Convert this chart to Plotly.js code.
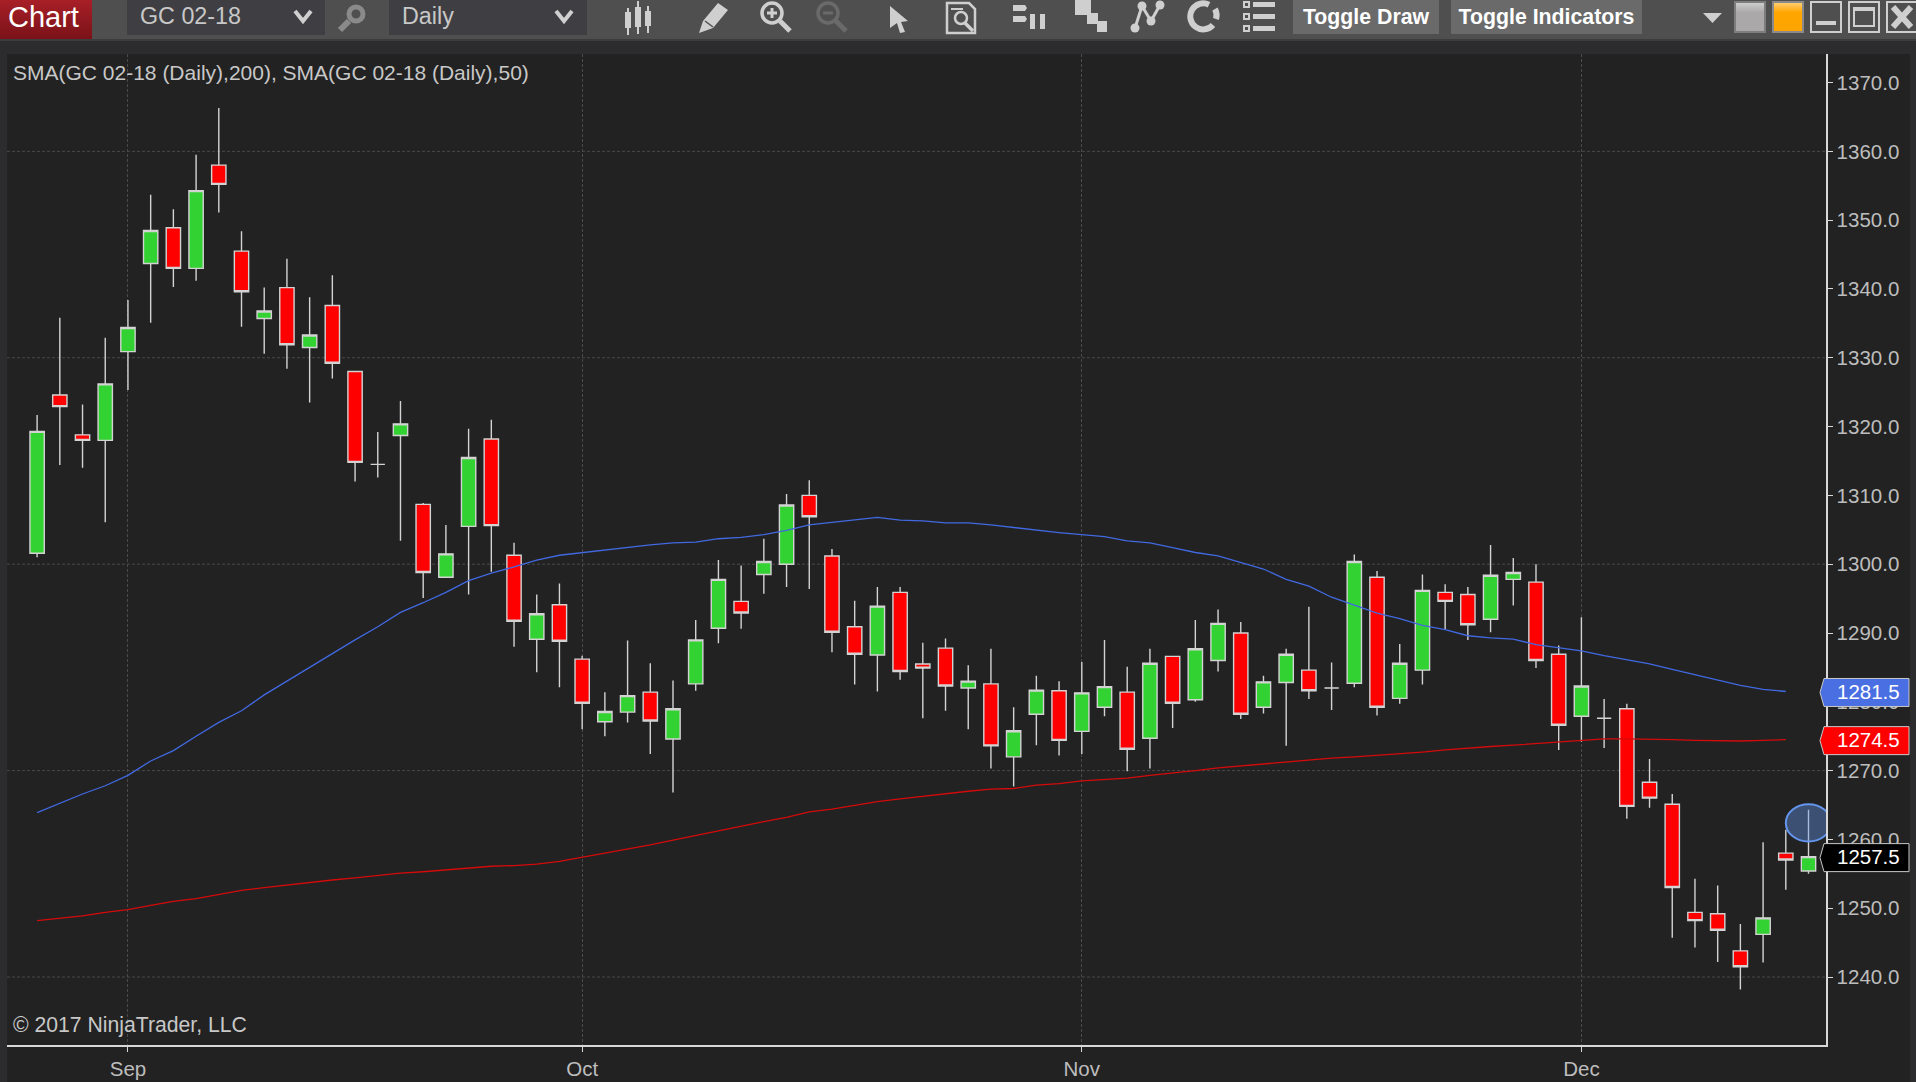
<!DOCTYPE html>
<html>
<head>
<meta charset="utf-8">
<script src="https://cdn.plot.ly/plotly-3.0.1.min.js"></script>
<style>
html,body{margin:0;padding:0;width:1916px;height:1082px;overflow:hidden;background:#222;font-family:"Liberation Sans",Arial,sans-serif}
#chart{position:absolute;left:0;top:0;width:1916px;height:1082px}
#bar{position:absolute;left:0;top:0;width:1916px;height:39px;background:#4f4f4f;overflow:hidden}
#sep{position:absolute;left:0;top:39px;width:1916px;height:2px;background:#3c3c3c}
#strip{position:absolute;left:0;top:41px;width:1916px;height:13px;background:#2c2c2e}
#sl{position:absolute;left:0;top:41px;width:7px;height:1041px;background:#2c2c2e}
#sr{position:absolute;left:1910px;top:41px;width:6px;height:1041px;background:#2c2c2e}
.txt{position:absolute;white-space:nowrap}
.btn{position:absolute;top:0;height:34px;background:#6a6a6a;color:#fff;font-weight:bold;font-size:21.3px;line-height:34px;text-align:center}
.dd{position:absolute;top:0;height:35px;background:#3f3f43;color:#c8c8c8;font-size:23.3px;line-height:32px}
svg.i{position:absolute;left:0;top:0;width:1916px;height:39px}
</style>
</head>
<body>
<div id="chart"></div>
<div id="strip"></div><div id="sl"></div><div id="sr"></div><div id="sep"></div>
<div id="bar">
  <div class="txt" style="left:0;top:0;width:92px;height:39px;background:linear-gradient(#a81f27,#7a1218);color:#fff;font-size:29px;line-height:34px;text-indent:8px">Chart</div>
  <div class="dd" style="left:127px;width:198px;text-indent:13px">GC 02-18</div>
  <div class="dd" style="left:389px;width:198px;text-indent:13px">Daily</div>
  <div class="btn" style="left:1293px;width:146px">Toggle Draw</div>
  <div class="btn" style="left:1451px;width:191px">Toggle Indicators</div>
  <svg class="i" viewBox="0 0 1916 39" fill="none" stroke="#cfcfcf">
    <path d="M295 11l8 10 8-10M556 11l8 10 8-10" stroke-width="4"/>
    <g stroke="#8a8a8a"><circle cx="356" cy="14" r="7" stroke-width="5"/><path d="M349 21l-9 9" stroke-width="6"/></g>
    <g stroke-width="2"><path d="M628 8v27M638 1v33M648 6v27"/></g>
    <g fill="#cfcfcf" stroke="none"><rect x="625" y="12" width="6" height="16"/><rect x="635" y="7" width="6" height="20"/><rect x="645" y="11" width="6" height="15"/></g>
    <path d="M699 33l4-12 15-18 10 7-15 18z" fill="#cfcfcf" stroke="none"/><path d="M705 21l8 6" stroke="#4f4f4f" stroke-width="1.500"/>
    <circle cx="772" cy="13" r="10" stroke-width="3.5"/><path d="M780 21l10 10" stroke-width="5"/><path d="M767 13h10M772 8v10" stroke-width="3"/>
    <g stroke="#6a6a6a"><circle cx="828" cy="13" r="10" stroke-width="3.5"/><path d="M836 21l10 10" stroke-width="5"/><path d="M823 13h10" stroke-width="3"/></g>
    <path d="M890 6l18 15-7 1 4 10-5 1-3-10-7 5z" fill="#cfcfcf" stroke="none"/>
    <path d="M947 3h22l6 6v24h-28z" stroke-width="2.5"/><circle cx="961" cy="18" r="6" stroke-width="2.5"/><path d="M965 23l8 8" stroke-width="3.5"/><path d="M951 9h12" stroke-width="2"/>
    <g fill="#cfcfcf" stroke="none"><path d="M1013 5h12l2 3-2 3h-12zM1013 16h12l2 3-2 3h-12z"/><rect x="1030" y="14" width="5" height="15"/><rect x="1040" y="14" width="5" height="15"/>
      <rect x="1075" y="0" width="16" height="15"/><rect x="1087" y="13" width="11" height="11"/><rect x="1097" y="21" width="10" height="11"/>
      <circle cx="1135" cy="28" r="4.5"/><circle cx="1142" cy="6" r="4.5"/><circle cx="1151" cy="21" r="4.5"/><circle cx="1160" cy="5" r="4.5"/>
      <rect x="1253" y="2" width="22" height="5"/><rect x="1253" y="14" width="22" height="5"/><rect x="1253" y="26" width="22" height="5"/></g>
    <path d="M1135 28l7-22 9 15 9-16" stroke-width="3"/>
    <path d="M1209 4.700A13 13 0 1 0 1213 25" stroke-width="6"/><path d="M1215 9A13 13 0 0 1 1216 19" stroke-width="6"/>
    <g stroke-width="2"><rect x="1244" y="2" width="5" height="5"/><rect x="1244" y="14" width="5" height="5"/><rect x="1244" y="26" width="5" height="5"/></g>
    <path d="M1703 13h19l-9.500 10z" fill="#cfcfcf" stroke="none"/>
    <defs><linearGradient id="g1" x1="0" y1="0" x2="0" y2="1"><stop offset="0" stop-color="#d0d0d0"/><stop offset=".35" stop-color="#aaa8a8"/></linearGradient>
    <linearGradient id="g2" x1="0" y1="0" x2="0" y2="1"><stop offset="0" stop-color="#ffd27a"/><stop offset=".35" stop-color="#ffa500"/></linearGradient></defs>
    <rect x="1735" y="2" width="30" height="30" fill="url(#g1)" stroke="#7d7d7d" stroke-width="2"/>
    <rect x="1773" y="2" width="30" height="30" fill="url(#g2)" stroke="#8a8a8a" stroke-width="2"/>
    <rect x="1811" y="2" width="30" height="30" stroke-width="2"/><rect x="1816" y="21" width="20" height="4" fill="#cfcfcf" stroke="none"/>
    <rect x="1849" y="2" width="30" height="30" stroke-width="2"/><rect x="1854" y="8" width="20" height="18" stroke-width="2"/><rect x="1854" y="7" width="20" height="4" fill="#cfcfcf" stroke="none"/>
    <rect x="1887" y="2" width="30" height="30" stroke-width="2"/><path d="M1893 7l18 20M1911 7l-18 20" stroke-width="6"/>
  </svg>
</div>
<script>
// Daily bars of GC 02-18, late Aug - mid Dec 2017
var barIndex = [];
for (var k = 0; k < 79; k++) barIndex.push(k);
var opens = [1301.6,1324.6,1318.8,1318.0,1330.9,1343.7,1348.9,1343.0,1358.0,1345.5,1335.7,1340.2,1331.5,1337.6,1328.0,1314.5,1318.7,1308.7,1298.1,1305.5,
 1318.2,1301.3,1289.1,1294.1,1286.2,1277.1,1278.5,1281.4,1274.6,1282.6,1290.7,1294.6,1298.5,1300.0,1310.0,1301.2,1290.9,1286.8,1295.9,1285.5,
 1287.8,1282.0,1282.6,1272.0,1278.2,1281.6,1275.7,1279.2,1281.4,1274.7,1286.6,1280.3,1286.0,1290.0,1279.2,1282.8,1284.6,1282.0,1282.7,1298.1,
 1280.5,1284.6,1295.9,1295.6,1292.0,1297.8,1297.4,1286.9,1277.9,1277.6,1279.0,1268.3,1265.1,1249.4,1249.2,1243.8,1246.2,1258.0,1255.4];
var highs = [1321.7,1335.8,1323.2,1332.9,1338.4,1353.7,1351.6,1359.5,1366.3,1348.4,1340.2,1344.4,1338.8,1342.0,1328.0,1319.2,1323.7,1308.9,1305.7,1319.7,
 1321.0,1303.1,1295.6,1297.2,1286.7,1281.4,1288.9,1285.6,1283.1,1291.9,1300.6,1299.8,1303.7,1310.2,1312.2,1302.2,1294.7,1296.7,1296.7,1288.6,
 1289.2,1285.3,1287.7,1279.2,1283.8,1283.0,1285.8,1289.0,1285.1,1287.7,1286.6,1291.9,1293.4,1291.6,1283.8,1287.7,1293.8,1285.7,1301.4,1299.0,
 1288.4,1298.5,1297.1,1296.7,1302.8,1300.9,1300.0,1288.2,1292.3,1280.4,1279.7,1271.7,1266.6,1254.3,1253.3,1247.7,1259.6,1261.4,1264.3];
var lows = [1301.0,1314.4,1314.0,1306.1,1325.3,1335.1,1340.3,1341.2,1351.1,1334.5,1330.6,1328.4,1323.5,1327.0,1312.0,1312.6,1303.4,1295.1,1298.1,1295.6,
 1298.9,1288.0,1284.3,1282.1,1276.0,1275.0,1277.0,1272.4,1266.8,1281.6,1288.5,1290.6,1295.7,1296.7,1296.4,1287.2,1282.5,1281.5,1283.2,1277.6,
 1278.7,1276.0,1270.3,1267.7,1273.7,1272.2,1272.4,1277.9,1269.9,1270.3,1276.2,1280.0,1284.4,1277.5,1278.3,1273.6,1280.4,1278.8,1282.1,1278.0,
 1279.7,1282.5,1290.5,1289.0,1290.1,1294.0,1284.9,1273.0,1274.2,1273.3,1263.0,1264.6,1245.7,1244.3,1242.2,1238.2,1242.1,1252.7,1255.0];
var closes = [1319.3,1322.9,1318.0,1326.2,1334.4,1348.5,1343.0,1354.3,1355.2,1339.6,1336.8,1331.9,1333.3,1329.2,1314.8,1314.5,1320.4,1298.8,1301.5,1315.5,
 1305.6,1291.7,1292.8,1288.8,1279.8,1278.6,1280.9,1277.2,1279.0,1289.0,1297.8,1292.9,1300.4,1308.6,1306.9,1290.1,1286.9,1293.9,1284.4,1284.9,
 1282.3,1283.0,1273.6,1275.8,1281.7,1274.4,1281.3,1282.2,1273.1,1285.6,1279.8,1287.7,1291.4,1278.2,1282.9,1286.9,1281.6,1282.0,1300.4,1279.2,
 1285.6,1296.2,1294.6,1291.2,1298.4,1298.8,1286.0,1276.6,1282.3,1277.6,1264.8,1266.0,1253.0,1248.2,1246.8,1241.5,1248.6,1257.0,1257.5];
var sma50 = [1263.9,1265.3,1266.6,1267.8,1269.3,1271.4,1272.9,1275.0,1277.0,1278.7,1281.0,1283.0,1285.0,1287.1,1289.0,1290.9,1293.0,1294.4,1295.9,1297.6,
 1298.7,1299.6,1300.6,1301.3,1301.7,1302.0,1302.4,1302.8,1303.1,1303.2,1303.7,1303.9,1304.3,1304.9,1305.7,1306.1,1306.4,1306.8,1306.4,1306.3,
 1306.0,1306.0,1305.7,1305.3,1305.0,1304.6,1304.3,1304.0,1303.4,1303.1,1302.4,1301.7,1301.2,1300.2,1299.3,1297.8,1296.8,1295.2,1294.1,1292.9,
 1292.1,1291.1,1290.5,1289.6,1289.3,1289.1,1288.3,1287.8,1287.4,1286.7,1286.1,1285.5,1284.7,1283.9,1283.2,1282.4,1281.8,1281.5,null];
var sma200 = [1248.2,1248.5,1248.9,1249.4,1249.8,1250.4,1251.0,1251.4,1252.0,1252.6,1253.0,1253.4,1253.7,1254.1,1254.4,1254.8,1255.1,1255.3,1255.6,1255.9,
 1256.1,1256.2,1256.4,1256.8,1257.4,1257.9,1258.6,1259.2,1259.9,1260.6,1261.3,1261.9,1262.6,1263.2,1264.0,1264.4,1265.0,1265.5,1265.9,1266.3,
 1266.6,1267.0,1267.3,1267.4,1267.9,1268.1,1268.5,1268.7,1268.9,1269.3,1269.6,1270.0,1270.4,1270.7,1270.9,1271.2,1271.5,1271.8,1272.0,1272.2,
 1272.5,1272.7,1273.0,1273.3,1273.5,1273.7,1273.9,1274.1,1274.4,1274.6,1274.6,1274.6,1274.5,1274.4,1274.3,1274.3,1274.4,1274.5,null];
var monthTicks = [4,24,46,68];
var monthLabels = ['Sep','Oct','Nov','Dec'];
var priceTicks = [1240,1250,1260,1270,1280,1290,1300,1310,1320,1330,1340,1350,1360,1370];
var priceTickLabels = ['1240.0','1250.0','1260.0','1270.0','1280.0','1290.0','1300.0','1310.0','1320.0','1330.0','1340.0','1350.0','1360.0','1370.0'];
var gridPrices = [1240,1270,1300,1330,1360];
var tagValues = [1281.5,1274.5,1257.5];
var tagLabels = ['1281.5','1274.5','1257.5'];
var tagFills = ['#4a6fe3','#ff0000','#000000'];
var alertBar = 78, alertLow = 1259.7, alertHigh = 1265.1;

var tagPath = 'M -6,-1 L -2,-15 L 83,-15 L 83,13 L -2,13 Z';
var shapes = gridPrices.map(function(p){
  return {type:'line',xref:'paper',x0:0,x1:1,yref:'y',y0:p,y1:p,layer:'below',line:{color:'#4a4a4a',width:1,dash:'3px,2px'}};
});
shapes.push({type:'circle',xref:'x',yref:'y',x0:alertBar-1,x1:alertBar+1,y0:alertLow,y1:alertHigh,layer:'above',
  fillcolor:'rgba(100,149,237,0.4)',line:{color:'#6495ed',width:2}});
tagValues.forEach(function(v,i){
  shapes.push({type:'path',xref:'paper',xsizemode:'pixel',xanchor:1,yref:'y',ysizemode:'pixel',yanchor:v,path:tagPath,
    fillcolor:tagFills[i],line:{color:'#c8c8c8',width:1},layer:'above'});
});
var annotations = [
  {xref:'paper',yref:'paper',x:0,y:1,xanchor:'left',yanchor:'top',xshift:4,yshift:-5,showarrow:false,align:'left',
   text:'SMA(GC 02-18 (Daily),200), SMA(GC 02-18 (Daily),50)',font:{family:'Liberation Sans',size:21,color:'#c8c8c8'}},
  {xref:'paper',yref:'paper',x:0,y:0,xanchor:'left',yanchor:'bottom',xshift:4,yshift:6,showarrow:false,align:'left',
   text:'© 2017 NinjaTrader, LLC',font:{family:'Liberation Sans',size:21.2,color:'#c8c8c8'}}
];
tagValues.forEach(function(v,i){
  annotations.push({xref:'paper',yref:'y',x:1,y:v,xanchor:'left',yanchor:'middle',xshift:9,yshift:0,showarrow:false,
    text:tagLabels[i],font:{family:'Liberation Sans',size:20.5,color:'#ffffff'}});
});

var traces = [
  {type:'candlestick',x:barIndex,open:opens,high:highs,low:lows,close:closes,whiskerwidth:0,hoverinfo:'skip',showlegend:false,
   increasing:{fillcolor:'#33d233',line:{color:'#d3d3d3',width:1.4}},
   decreasing:{fillcolor:'#ff0000',line:{color:'#d3d3d3',width:1.4}}},
  {type:'scatter',mode:'lines',x:barIndex,y:sma50,name:'SMA 50',line:{color:'#4169e1',width:1.3},hoverinfo:'skip',showlegend:false},
  {type:'scatter',mode:'lines',x:barIndex,y:sma200,name:'SMA 200',line:{color:'#d50a0a',width:1.3},hoverinfo:'skip',showlegend:false}
];
var layout = {
  width:1916,height:1082,autosize:false,showlegend:false,
  margin:{l:7,r:90,t:54,b:37,pad:0},
  paper_bgcolor:'#222222',plot_bgcolor:'#222222',
  font:{family:'Liberation Sans',color:'#bdbdbd',size:20.5},
  boxgap:0.37,boxgroupgap:0,
  xaxis:{type:'linear',range:[-1.326,78.77],rangeslider:{visible:false},tickmode:'array',tickvals:monthTicks,ticktext:monthLabels,
    showgrid:true,gridcolor:'#4a4a4a',gridwidth:1,griddash:'3px,2px',zeroline:false,
    showline:true,linecolor:'#d8d8d8',linewidth:1.5,ticks:'outside',ticklen:5,tickwidth:1,tickcolor:'#d8d8d8',
    tickfont:{family:'Liberation Sans',size:20.5,color:'#bdbdbd'},automargin:false,fixedrange:true},
  yaxis:{type:'linear',side:'right',range:[1230.12,1374.15],tickmode:'array',tickvals:priceTicks,ticktext:priceTickLabels,
    showgrid:false,zeroline:false,showline:true,linecolor:'#d8d8d8',linewidth:1.5,ticks:'outside',ticklen:5,tickwidth:1,tickcolor:'#d8d8d8',
    tickfont:{family:'Liberation Sans',size:20.5,color:'#bdbdbd'},automargin:false,fixedrange:true},
  shapes:shapes,annotations:annotations,hovermode:false,dragmode:false
};
Plotly.newPlot('chart',traces,layout,{displayModeBar:false,staticPlot:true});
</script>
</body>
</html>
